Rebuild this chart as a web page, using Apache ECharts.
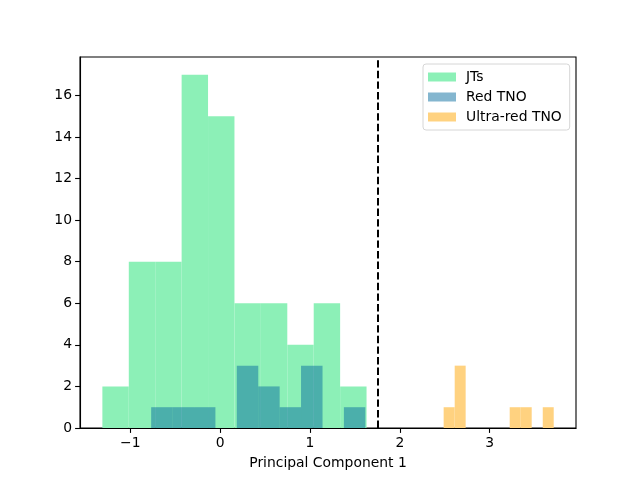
<!DOCTYPE html>
<html>
<head>
<meta charset="utf-8">
<script src="https://cdn.jsdelivr.net/npm/echarts@6/dist/echarts.min.js"></script>
<style>
  html, body { margin: 0; padding: 0; background: #fff; }
  #chart { width: 640px; height: 480px; }
</style>
</head>
<body>
<div id="chart"></div>
<script>
// histogram bin edges (11 edges -> 10 bins) and counts
var jtEdges = [-1.311, -1.017, -0.723, -0.429, -0.135, 0.159, 0.453, 0.747, 1.041, 1.335, 1.629];
var jtCounts = [2, 8, 8, 17, 15, 6, 6, 4, 6, 2];

var redEdges = [-0.768, -0.530, -0.291, -0.053, 0.185, 0.424, 0.662, 0.900, 1.139, 1.377, 1.615];
var redCounts = [1, 1, 1, 0, 3, 2, 1, 3, 0, 1];

var ultraEdges = [2.487, 2.610, 2.732, 2.855, 2.977, 3.100, 3.222, 3.345, 3.467, 3.590, 3.712];
var ultraCounts = [1, 3, 0, 0, 0, 0, 1, 1, 0, 1];

var cutX = 1.745;

var xTicks = [-1, 0, 1, 2, 3];
var yTicks = [0, 2, 4, 6, 8, 10, 12, 14, 16];

function bins(edges, counts) {
    var out = [];
    for (var i = 0; i < counts.length; i++) {
        if (counts[i] > 0) out.push([edges[i], edges[i + 1], counts[i]]);
    }
    return out;
}

function renderBar(params, api) {
    var p0 = api.coord([api.value(0), api.value(2)]);
    var p1 = api.coord([api.value(1), 0]);
    var st = api.style();
    st.stroke = null;
    st.lineWidth = 0;
    return {
        type: 'rect',
        shape: { x: p0[0], y: p0[1], width: p1[0] - p0[0], height: p1[1] - p0[1] },
        style: st
    };
}

var chart = echarts.init(document.getElementById('chart'));
var font = 'DejaVu Sans';

var option = {
    animation: false,
    grid: {
        left: 80, right: 64, top: 57, bottom: 52,
        show: true, borderColor: '#000', borderWidth: 1.1, backgroundColor: 'transparent'
    },
    legend: {
        orient: 'vertical',
        left: 423, top: 64,
        padding: [5, 8, 5, 5],
        itemWidth: 28, itemHeight: 9, itemGap: 4,
        icon: 'rect',
        backgroundColor: 'rgba(255,255,255,0.8)',
        borderColor: '#d6d6d6', borderWidth: 1, borderRadius: 3,
        textStyle: { fontFamily: font, fontSize: 13.9, color: '#000', lineHeight: 16, padding: [0, 0, 0, 5] },
        data: ['JTs', 'Red TNO', 'Ultra-red TNO']
    },
    xAxis: {
        type: 'value',
        min: -1.56, max: 3.96,
        name: 'Principal Component 1',
        nameLocation: 'middle', nameGap: 28,
        nameTextStyle: { fontFamily: font, fontSize: 13.9, color: '#000' },
        axisLine: { onZero: false, lineStyle: { color: '#000', width: 1.1 } },
        axisTick: { show: true, length: 4.9, lineStyle: { color: '#000', width: 1.1 }, customValues: xTicks },
        axisLabel: { fontFamily: font, fontSize: 13.9, color: '#000', margin: 8, customValues: xTicks,
            formatter: function (v) { return v < 0 ? '\u2212' + (-v) : String(v); } },
        splitLine: { show: false }
    },
    yAxis: {
        type: 'value',
        min: 0, max: 17.85,
        axisLine: { show: true, onZero: false, lineStyle: { color: '#000', width: 1.1 } },
        axisTick: { show: true, length: 4.9, lineStyle: { color: '#000', width: 1.1 }, customValues: yTicks },
        axisLabel: { fontFamily: font, fontSize: 13.9, color: '#000', margin: 8, customValues: yTicks },
        splitLine: { show: false }
    },
    series: [
        {
            name: 'JTs',
            type: 'custom',
            renderItem: renderBar,
            encode: { x: [0, 1], y: 2 },
            itemStyle: { color: 'rgb(140,240,183)' },
            data: bins(jtEdges, jtCounts),
            markLine: {
                silent: true,
                symbol: 'none',
                label: { show: false },
                lineStyle: { color: '#000', width: 2, type: [7.4, 3.2] },
                data: [{ xAxis: cutX }]
            }
        },
        {
            name: 'Red TNO',
            type: 'custom',
            renderItem: renderBar,
            encode: { x: [0, 1], y: 2 },
            itemStyle: { color: 'rgba(10,110,160,0.5)' },
            data: bins(redEdges, redCounts)
        },
        {
            name: 'Ultra-red TNO',
            type: 'custom',
            renderItem: renderBar,
            encode: { x: [0, 1], y: 2 },
            itemStyle: { color: 'rgb(255,210,128)' },
            data: bins(ultraEdges, ultraCounts)
        }
    ]
};

chart.setOption(option);
window.onresize = chart.resize;
</script>
</body>
</html>
